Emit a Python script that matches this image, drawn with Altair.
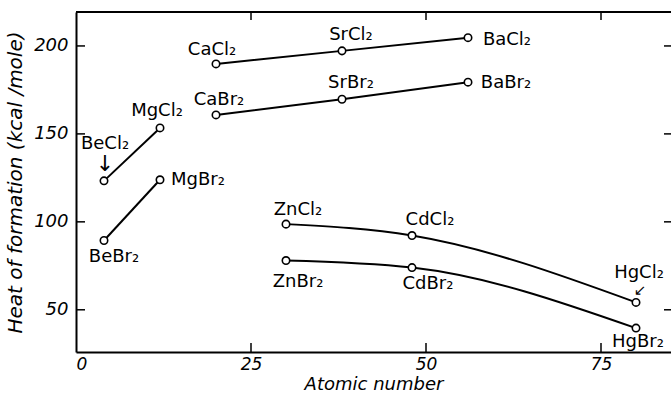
import altair as alt
import pandas as pd

# ---- data ----
compounds = ["BeCl₂", "MgCl₂", "BeBr₂", "MgBr₂",
             "CaCl₂", "SrCl₂", "BaCl₂",
             "CaBr₂", "SrBr₂", "BaBr₂",
             "ZnCl₂", "CdCl₂", "HgCl₂",
             "ZnBr₂", "CdBr₂", "HgBr₂"]
atomic_number = [4, 12, 4, 12,
                 20, 38, 56,
                 20, 38, 56,
                 30, 48, 80,
                 30, 48, 80]
heat = [123.3, 153.4, 89.4, 123.9,
        189.8, 197.2, 204.7,
        160.8, 169.7, 179.4,
        98.7, 92.2, 54.2,
        78.0, 74.0, 39.6]
series = ["BeMgCl", "BeMgCl", "BeMgBr", "BeMgBr",
          "CaCl", "CaCl", "CaCl",
          "CaBr", "CaBr", "CaBr",
          "ZnCl", "ZnCl", "ZnCl",
          "ZnBr", "ZnBr", "ZnBr"]
x_ticks = [25, 50, 75]
y_ticks = [50, 100, 150, 200]

# label placement (pixel offsets from the point), layout only
label_dx = [1, -3, 10, 38, -4, 9, 39, 3, 9, 38, 12, 18, 3, 12, 16, 2]
label_dy = [-37, -17, 17, 0, -14, -16, 2, -15, -16, 1, -14, -16, -29, 21, 16, 14]

df = pd.DataFrame({"compound": compounds, "Z": atomic_number, "H": heat,
                   "series": series})
tick_x_df = pd.DataFrame({"Z": x_ticks})
tick_y_df = pd.DataFrame({"H": y_ticks})

W, H = 595, 340
FONT = "DejaVu Sans"

xscale = alt.Scale(domain=[0, 85], nice=False, zero=False)
yscale = alt.Scale(domain=[26, 219.3], nice=False, zero=False)

x_enc = alt.X("Z:Q", scale=xscale,
              axis=alt.Axis(title="Atomic number", values=[0, 25, 50, 75],
                            grid=False, ticks=False, labelPadding=4,
                            domainColor="black", domainWidth=2,
                            labelFont=FONT, labelFontStyle="italic",
                            labelFontSize=17, labelColor="black",
                            titleFont=FONT, titleFontStyle="italic",
                            titleFontWeight="normal", titleFontSize=18,
                            titleColor="black", titlePadding=3))
y_enc = alt.Y("H:Q", scale=yscale,
              axis=alt.Axis(title="Heat of formation (kcal /mole)",
                            values=[50, 100, 150, 200],
                            grid=False, ticks=False, labelPadding=8,
                            domainColor="black", domainWidth=2,
                            labelFont=FONT, labelFontStyle="italic",
                            labelFontSize=18, labelColor="black",
                            titleFont=FONT, titleFontStyle="italic",
                            titleFontWeight="normal", titleFontSize=20,
                            titleColor="black", titlePadding=8))

base = alt.Chart(df)

lines = base.mark_line(color="black", strokeWidth=2,
                       interpolate="monotone").encode(
    x=x_enc, y=y_enc, detail="series:N")

points = base.mark_point(shape="circle", filled=True, fill="white",
                         stroke="black", strokeWidth=1.6, size=55,
                         opacity=1).encode(
    x=alt.X("Z:Q", scale=xscale), y=alt.Y("H:Q", scale=yscale))

labels = []
for name, dx, dy in zip(compounds, label_dx, label_dy):
    labels.append(
        base.transform_filter(alt.datum.compound == name)
        .mark_text(font=FONT, fontSize=18, color="black", align="center",
                   baseline="middle", dx=dx, dy=dy)
        .encode(x=alt.X("Z:Q", scale=xscale), y=alt.Y("H:Q", scale=yscale),
                text="compound:N"))

arrow_be = base.transform_filter(alt.datum.compound == "BeCl₂").mark_text(
    font=FONT, fontSize=22, color="black", dx=1, dy=-17, text="↓").encode(
    x=alt.X("Z:Q", scale=xscale), y=alt.Y("H:Q", scale=yscale))
arrow_hg = base.transform_filter(alt.datum.compound == "HgCl₂").mark_text(
    font=FONT, fontSize=15, color="black", dx=4, dy=-12, text="↙").encode(
    x=alt.X("Z:Q", scale=xscale), y=alt.Y("H:Q", scale=yscale))

tick_style = dict(color="black", strokeWidth=1.5)
bottom_ticks = alt.Chart(tick_x_df).mark_rule(**tick_style).encode(
    x=alt.X("Z:Q", scale=xscale), y=alt.value(H), y2=alt.value(H - 9))
top_ticks = alt.Chart(tick_x_df).mark_rule(**tick_style).encode(
    x=alt.X("Z:Q", scale=xscale), y=alt.value(0), y2=alt.value(8))
left_ticks = alt.Chart(tick_y_df).mark_rule(**tick_style).encode(
    y=alt.Y("H:Q", scale=yscale), x=alt.value(0), x2=alt.value(9))
right_ticks = alt.Chart(tick_y_df).mark_rule(**tick_style).encode(
    y=alt.Y("H:Q", scale=yscale), x=alt.value(W - 7), x2=alt.value(W))
top_border = alt.Chart(tick_y_df).mark_rule(color="black", strokeWidth=2).encode(
    x=alt.value(0), x2=alt.value(W), y=alt.value(0))

chart = alt.layer(lines, points, *labels, arrow_be, arrow_hg,
                  bottom_ticks, top_ticks, left_ticks, right_ticks,
                  top_border).properties(
    width=W, height=H,
    autosize=alt.AutoSizeParams(type="none"),
    padding={"left": 76, "top": 12, "right": 0, "bottom": 43},
    background="white",
).configure_view(stroke=None)

chart.save("out.html", embed_options={"renderer": "svg", "actions": False})
